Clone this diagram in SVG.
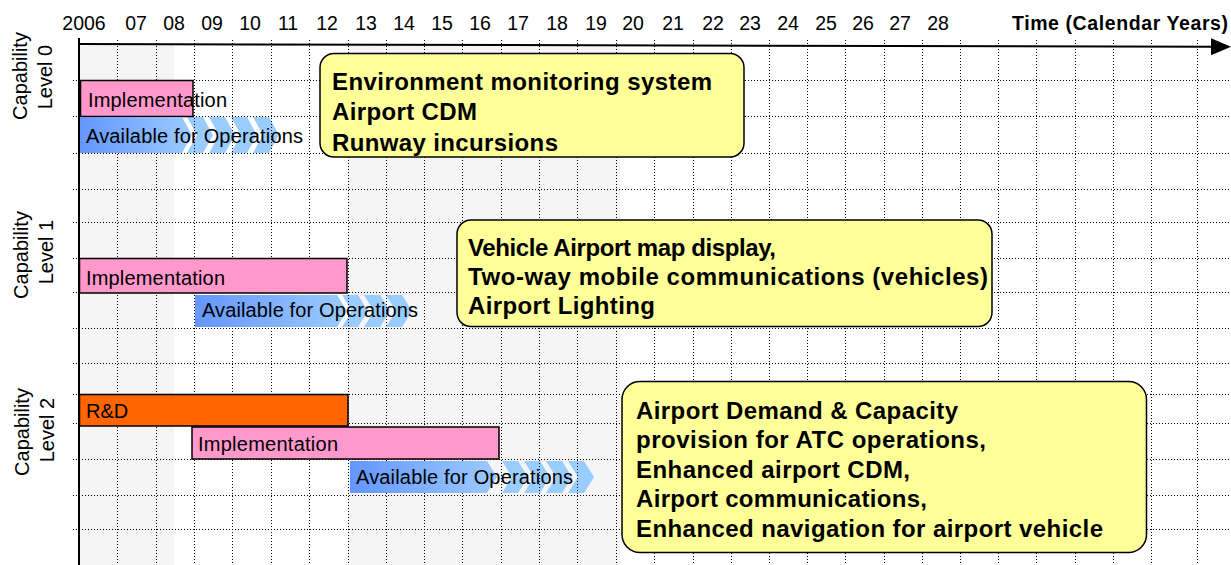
<svg xmlns="http://www.w3.org/2000/svg" width="1231" height="565" viewBox="0 0 1231 565">
  <defs>
    <linearGradient id="opsGrad" x1="0" y1="0" x2="1" y2="0">
      <stop offset="0" stop-color="#6496ff"/>
      <stop offset="1" stop-color="#9ccbff"/>
    </linearGradient>
    <marker id="axisHead" viewBox="0 0 20 17" refX="1" refY="8.5" markerWidth="20" markerHeight="17" markerUnits="userSpaceOnUse" orient="auto">
      <path d="M0,0 L20,8.5 L0,17 Z" fill="#000"/>
    </marker>
    <!-- one chevron step of the "available" arrow trains -->
    <path id="chev" d="M0,0 H16 L26,16 L16,32 H0 L10,16 Z"/>
  </defs>
  <style>
    .band { fill: #f5f5f5; }
    .grid line { stroke: #000; stroke-width: 1; stroke-dasharray: 1 2; fill: none; }
    .axis { stroke: #000; stroke-width: 2; fill: none; }
    text { font-family: "Liberation Sans", Arial, sans-serif; fill: #000; }
    .yr { font-size: 19.5px; text-anchor: middle; }
    .title { font-size: 19.5px; font-weight: bold; text-anchor: end; }
    .lvl { font-size: 20px; text-anchor: middle; }
    .lbl { font-size: 20px; }
    .note { font-size: 24px; font-weight: bold; }
    .impl { fill: #ff99cc; stroke: #000; stroke-width: 1.5; }
    .rd { fill: #ff6600; stroke: #000; stroke-width: 1.5; }
    .ops { fill: url(#opsGrad); }
    .chev { fill: #99ccff; }
    .callout { fill: #ffff99; stroke: #000; stroke-width: 1.5; }
  </style>

  <rect width="1231" height="565" fill="#fff"/>

  <!-- shaded year spans -->
  <g id="bands">
    <rect class="band" x="79" y="45" width="95" height="520"/>
    <rect class="band" x="348" y="45" width="272" height="520"/>
  </g>

  <!-- chevron trails sit under the grid -->
  <g id="chevrons" class="chev">
    <use href="#chev" x="187" y="117" transform="scale(1,1.125)" transform-origin="187 117"/>
    <use href="#chev" x="209" y="117" transform="scale(1,1.125)" transform-origin="209 117"/>
    <use href="#chev" x="231" y="117" transform="scale(1,1.125)" transform-origin="231 117"/>
    <use href="#chev" x="253" y="117" transform="scale(1,1.125)" transform-origin="253 117"/>
    <use href="#chev" x="342" y="295"/>
    <use href="#chev" x="364" y="295"/>
    <use href="#chev" x="386" y="295"/>
    <use href="#chev" x="502" y="461"/>
    <use href="#chev" x="524" y="461"/>
    <use href="#chev" x="546" y="461"/>
    <use href="#chev" x="568" y="461"/>
  </g>

  <!-- dotted year / row grid -->
  <g id="grid" class="grid">
    <line x1="117.5" y1="40" x2="117.5" y2="565"/>
    <line x1="156.5" y1="40" x2="156.5" y2="565"/>
    <line x1="194.5" y1="40" x2="194.5" y2="565"/>
    <line x1="232.5" y1="40" x2="232.5" y2="565"/>
    <line x1="271.5" y1="40" x2="271.5" y2="565"/>
    <line x1="309.5" y1="40" x2="309.5" y2="565"/>
    <line x1="348.5" y1="40" x2="348.5" y2="565"/>
    <line x1="386.5" y1="40" x2="386.5" y2="565"/>
    <line x1="424.5" y1="40" x2="424.5" y2="565"/>
    <line x1="462.5" y1="40" x2="462.5" y2="565"/>
    <line x1="501.5" y1="40" x2="501.5" y2="565"/>
    <line x1="539.5" y1="40" x2="539.5" y2="565"/>
    <line x1="577.5" y1="40" x2="577.5" y2="565"/>
    <line x1="616.5" y1="40" x2="616.5" y2="565"/>
    <line x1="654.5" y1="40" x2="654.5" y2="565"/>
    <line x1="693.5" y1="40" x2="693.5" y2="565"/>
    <line x1="731.5" y1="40" x2="731.5" y2="565"/>
    <line x1="769.5" y1="40" x2="769.5" y2="565"/>
    <line x1="807.5" y1="40" x2="807.5" y2="565"/>
    <line x1="845.5" y1="40" x2="845.5" y2="565"/>
    <line x1="884.5" y1="40" x2="884.5" y2="565"/>
    <line x1="922.5" y1="40" x2="922.5" y2="565"/>
    <line x1="960.5" y1="40" x2="960.5" y2="565"/>
    <line x1="998.5" y1="40" x2="998.5" y2="565"/>
    <line x1="1036.5" y1="40" x2="1036.5" y2="565"/>
    <line x1="1075.5" y1="40" x2="1075.5" y2="565"/>
    <line x1="1113.5" y1="40" x2="1113.5" y2="565"/>
    <line x1="1151.5" y1="40" x2="1151.5" y2="565"/>
    <line x1="1197.5" y1="40" x2="1197.5" y2="565"/>
    <line x1="73" y1="80.5" x2="1231" y2="80.5"/>
    <line x1="73" y1="116.5" x2="1231" y2="116.5"/>
    <line x1="73" y1="153.5" x2="1231" y2="153.5"/>
    <line x1="73" y1="189.5" x2="1231" y2="189.5"/>
    <line x1="73" y1="222.5" x2="1231" y2="222.5"/>
    <line x1="73" y1="258.5" x2="1231" y2="258.5"/>
    <line x1="73" y1="292.5" x2="1231" y2="292.5"/>
    <line x1="73" y1="328.5" x2="1231" y2="328.5"/>
    <line x1="73" y1="363.5" x2="1231" y2="363.5"/>
    <line x1="73" y1="394.5" x2="1231" y2="394.5"/>
    <line x1="73" y1="423.5" x2="1231" y2="423.5"/>
    <line x1="73" y1="459.5" x2="1231" y2="459.5"/>
    <line x1="73" y1="495.5" x2="1231" y2="495.5"/>
    <line x1="73" y1="529.5" x2="1231" y2="529.5"/>
  </g>

  <!-- time axis and year scale -->
  <g id="axes">
    <line class="axis" x1="79" y1="38" x2="79" y2="565"/>
    <line class="axis" x1="78" y1="44" x2="1212" y2="46.8" marker-end="url(#axisHead)"/>
    <text class="yr" x="84" y="30">2006</text>
    <text class="yr" x="136" y="30">07</text>
    <text class="yr" x="174" y="30">08</text>
    <text class="yr" x="212" y="30">09</text>
    <text class="yr" x="250" y="30">10</text>
    <text class="yr" x="288" y="30">11</text>
    <text class="yr" x="327" y="30">12</text>
    <text class="yr" x="366" y="30">13</text>
    <text class="yr" x="404" y="30">14</text>
    <text class="yr" x="442" y="30">15</text>
    <text class="yr" x="480" y="30">16</text>
    <text class="yr" x="518" y="30">17</text>
    <text class="yr" x="557" y="30">18</text>
    <text class="yr" x="596" y="30">19</text>
    <text class="yr" x="633" y="30">20</text>
    <text class="yr" x="673" y="30">21</text>
    <text class="yr" x="713" y="30">22</text>
    <text class="yr" x="750" y="30">23</text>
    <text class="yr" x="788" y="30">24</text>
    <text class="yr" x="826" y="30">25</text>
    <text class="yr" x="863" y="30">26</text>
    <text class="yr" x="900" y="30">27</text>
    <text class="yr" x="938" y="30">28</text>
    <text class="title" x="1228" y="30" textLength="216" lengthAdjust="spacing">Time (Calendar Years)</text>
  </g>

  <!-- row captions -->
  <g id="level0-caption">
    <text class="lvl" transform="translate(27,76) rotate(-90)">Capability</text>
    <text class="lvl" transform="translate(52,77) rotate(-90)">Level 0</text>
  </g>
  <g id="level1-caption">
    <text class="lvl" transform="translate(28,255) rotate(-90)">Capability</text>
    <text class="lvl" transform="translate(53,252) rotate(-90)">Level 1</text>
  </g>
  <g id="level2-caption">
    <text class="lvl" transform="translate(29,432) rotate(-90)">Capability</text>
    <text class="lvl" transform="translate(54,430) rotate(-90)">Level 2</text>
  </g>

  <!-- Capability level 0 -->
  <g id="l0-implementation">
    <rect class="impl" x="80.5" y="80.5" width="112.5" height="36"/>
    <text class="lbl" x="88" y="106.5" textLength="139" lengthAdjust="spacing">Implementation</text>
  </g>
  <g id="l0-operations">
    <path class="ops" d="M80,117 H182 L192,135 L182,153 H80 Z"/>
    <text class="lbl" x="86" y="143" textLength="217" lengthAdjust="spacing">Available for Operations</text>
  </g>
  <g id="l0-note">
    <rect class="callout" x="320" y="53.5" width="424" height="103.5" rx="14"/>
    <text class="note" x="332" y="89.5" textLength="380" lengthAdjust="spacing">Environment monitoring system</text>
    <text class="note" x="332" y="120" textLength="145" lengthAdjust="spacing">Airport CDM</text>
    <text class="note" x="332" y="150.5" textLength="226" lengthAdjust="spacing">Runway incursions</text>
  </g>

  <!-- Capability level 1 -->
  <g id="l1-implementation">
    <rect class="impl" x="79.5" y="258.5" width="267.5" height="34.5"/>
    <text class="lbl" x="86" y="285" textLength="139" lengthAdjust="spacing">Implementation</text>
  </g>
  <g id="l1-operations">
    <path class="ops" d="M195,295 H337 L347,311 L337,327 H195 Z"/>
    <text class="lbl" x="202" y="316.5" textLength="216" lengthAdjust="spacing">Available for Operations</text>
  </g>
  <g id="l1-note">
    <rect class="callout" x="457" y="220" width="535" height="106.5" rx="14"/>
    <text class="note" x="468" y="256" textLength="308" lengthAdjust="spacing">Vehicle Airport map display,</text>
    <text class="note" x="468" y="285" textLength="520" lengthAdjust="spacing">Two-way mobile communications (vehicles)</text>
    <text class="note" x="468" y="314" textLength="187" lengthAdjust="spacing">Airport Lighting</text>
  </g>

  <!-- Capability level 2 -->
  <g id="l2-rnd">
    <rect class="rd" x="79.5" y="394.5" width="268.5" height="31.5"/>
    <text class="lbl" x="86" y="418">R&amp;D</text>
  </g>
  <g id="l2-implementation">
    <rect class="impl" x="192" y="427" width="307" height="32"/>
    <text class="lbl" x="198" y="451" textLength="140" lengthAdjust="spacing">Implementation</text>
  </g>
  <g id="l2-operations">
    <path class="ops" d="M350,461 H487 L497,477 L487,493 H350 Z"/>
    <text class="lbl" x="356" y="484" textLength="217" lengthAdjust="spacing">Available for Operations</text>
  </g>
  <g id="l2-note">
    <rect class="callout" x="622" y="381.5" width="524.5" height="171" rx="18"/>
    <text class="note" x="636" y="418.5" textLength="322" lengthAdjust="spacing">Airport Demand &amp; Capacity</text>
    <text class="note" x="636" y="448" textLength="350" lengthAdjust="spacing">provision for ATC operations,</text>
    <text class="note" x="636" y="477.5" textLength="274" lengthAdjust="spacing">Enhanced airport CDM,</text>
    <text class="note" x="636" y="507" textLength="291" lengthAdjust="spacing">Airport communications,</text>
    <text class="note" x="636" y="537" textLength="467" lengthAdjust="spacing">Enhanced navigation for airport vehicle</text>
  </g>

  <g id="connectors"/>
</svg>
